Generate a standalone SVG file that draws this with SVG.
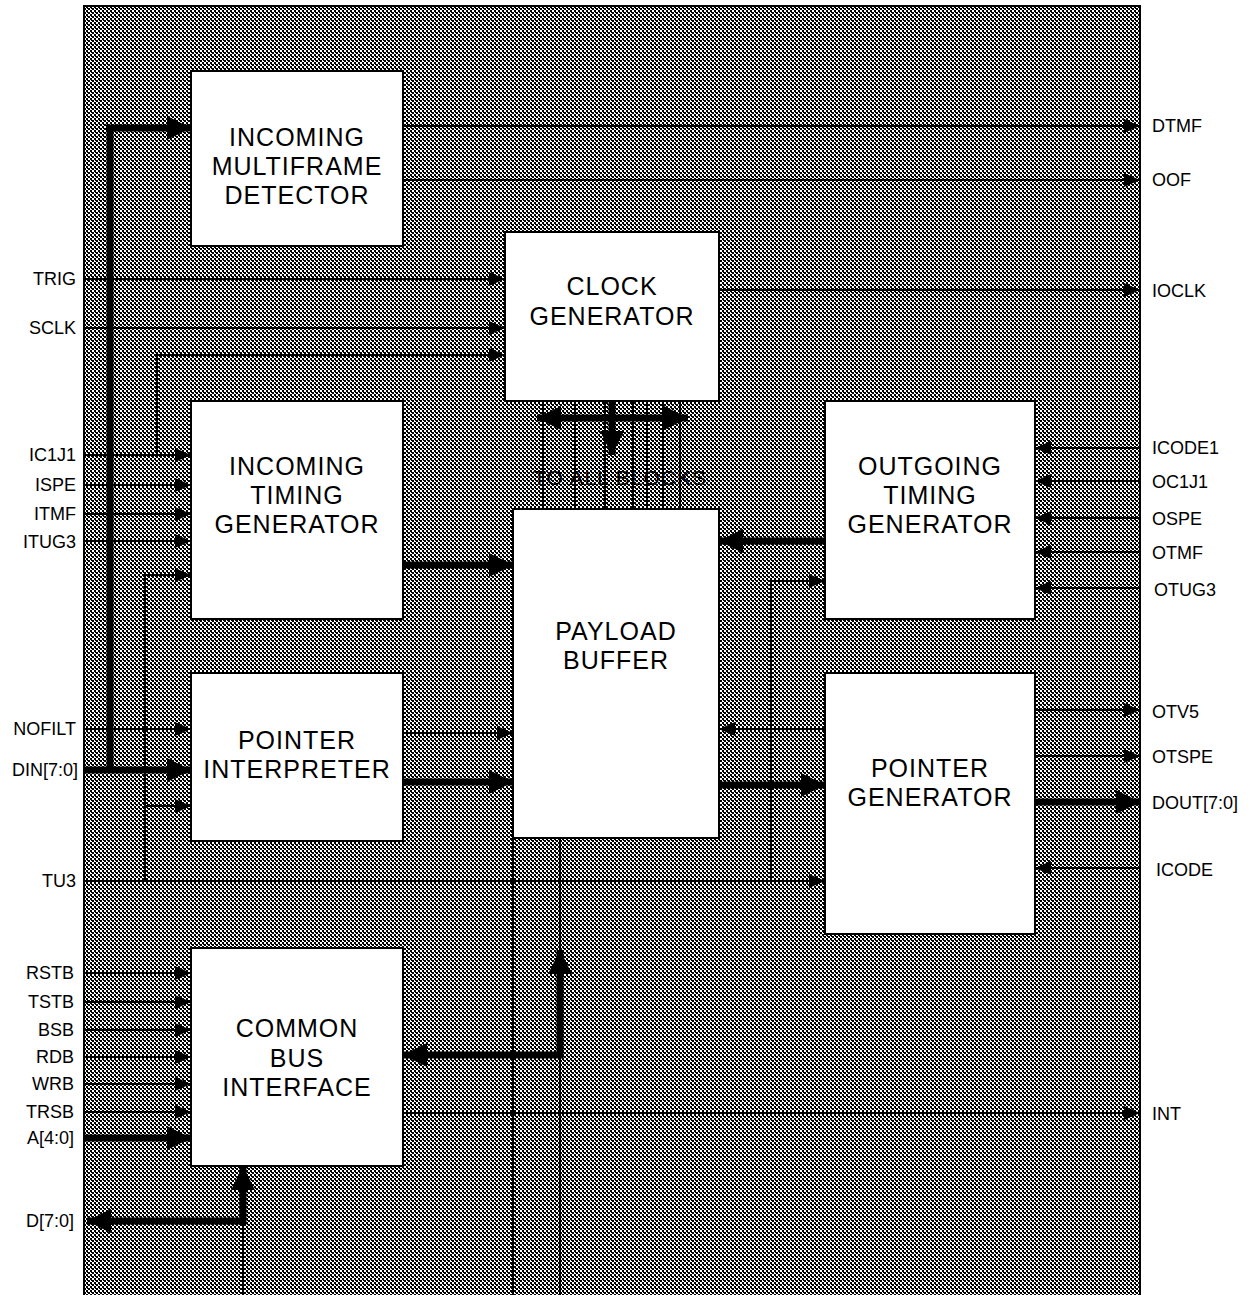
<svg xmlns="http://www.w3.org/2000/svg" width="1250" height="1295" viewBox="0 0 1250 1295">
<defs>
<pattern id="hatch" width="4" height="4" patternUnits="userSpaceOnUse">
<rect width="4" height="4" fill="#fff"/>
<rect x="0" y="0" width="2" height="2" fill="#000"/>
<rect x="2" y="2" width="2" height="2" fill="#000"/>
<rect x="1" y="0" width="1" height="1" fill="#000"/>
<rect x="3" y="0" width="1" height="1" fill="#000"/>
</pattern>
<marker id="a" markerUnits="userSpaceOnUse" markerWidth="16" markerHeight="14" refX="16" refY="7" orient="auto-start-reverse"><path d="M0,0 L16,7 L0,14 z" fill="#000"/></marker>
<marker id="A" markerUnits="userSpaceOnUse" markerWidth="24" markerHeight="24" refX="24" refY="12" orient="auto-start-reverse"><path d="M0,0 L24,12 L0,24 z" fill="#000"/></marker>
</defs>
<style>
.box{fill:#fff;stroke:#000;stroke-width:2}
.bt{font-family:"Liberation Sans",Arial,sans-serif;font-size:25px;letter-spacing:1px;text-anchor:middle;fill:#000}
.l{font-family:"Liberation Sans",Arial,sans-serif;font-size:18px;text-anchor:end;fill:#000}
.r{font-family:"Liberation Sans",Arial,sans-serif;font-size:18px;text-anchor:start;fill:#000}
.t{fill:none;stroke:#000;stroke-width:2;marker-end:url(#a)}
.n{fill:none;stroke:#000;stroke-width:2}
.T{fill:none;stroke:#000;stroke-width:7;marker-end:url(#A)}
.Tn{fill:none;stroke:#000;stroke-width:7}
</style>
<rect id="background" x="84" y="6" width="1056" height="1295" fill="url(#hatch)" stroke="#000" stroke-width="2"/>

<g id="connectors">
<path class="Tn" d="M110,125 V773"/>
<path class="T" d="M106,128 H191"/>
<path class="T" d="M84,770 H191"/>
<path class="t" d="M84,279 H505"/>
<path class="t" d="M84,328 H505"/>
<path class="t" d="M157,455 V355 H505"/>
<path class="t" d="M84,455 H191"/>
<path class="t" d="M84,485 H191"/>
<path class="t" d="M84,514 H191"/>
<path class="t" d="M84,541 H191"/>
<path class="t" d="M145,881 V575 H191"/>
<path class="t" d="M145,806 H191"/>
<path class="t" d="M84,729 H191"/>
<path class="t" d="M84,881 H825"/>
<path class="T" d="M403,565 H513"/>
<path class="t" d="M403,733 H513"/>
<path class="T" d="M403,782 H513"/>
<path class="T" d="M825,541 H719"/>
<path class="t" d="M771,881 V581 H825"/>
<path class="t" d="M825,729 H719"/>
<path class="T" d="M719,785 H825"/>
<path class="t" d="M403,126 H1140"/>
<path class="t" d="M403,180 H1140"/>
<path class="t" d="M719,290 H1140"/>
<path class="t" d="M1140,448 H1035"/>
<path class="t" d="M1140,481 H1035"/>
<path class="t" d="M1140,518 H1035"/>
<path class="t" d="M1140,552 H1035"/>
<path class="t" d="M1140,588 H1035"/>
<path class="t" d="M1035,710 H1140"/>
<path class="t" d="M1035,756 H1140"/>
<path class="T" d="M1035,802 H1140"/>
<path class="t" d="M1140,868 H1035"/>
<path class="t" d="M403,1113 H1140"/>
<path class="t" d="M84,973 H191"/>
<path class="t" d="M84,1002 H191"/>
<path class="t" d="M84,1030 H191"/>
<path class="t" d="M84,1057 H191"/>
<path class="t" d="M84,1084 H191"/>
<path class="t" d="M84,1112 H191"/>
<path class="T" d="M84,1138 H191"/>
<path class="n" d="M243,1221 V1295"/>
<path class="T" d="M87,1221 H243 V1166" style="marker-start:url(#A)"/>
<path class="n" d="M513,838 V1295"/>
<path class="n" d="M560,838 V1295"/>
<path class="T" d="M403,1055 H560 V950" style="marker-start:url(#A)"/>
<path class="n" d="M543,401 V509 M575,401 V509 M605,401 V509 M633,401 V509 M647,401 V509 M663,401 V509 M680,401 V509"/>
<path class="T" d="M537,418 H688" style="marker-start:url(#A)"/>
<path class="T" d="M612,401 V455"/>
</g>

<g id="imd"><rect class="box" x="191" y="71" width="212" height="175"/>
<text class="bt" x="297" y="146">INCOMING</text><text class="bt" x="297" y="175">MULTIFRAME</text><text class="bt" x="297" y="204">DETECTOR</text></g>
<g id="clk"><rect class="box" x="505" y="232" width="214" height="169"/>
<text class="bt" x="612" y="295">CLOCK</text><text class="bt" x="612" y="325">GENERATOR</text></g>
<g id="itg"><rect class="box" x="191" y="401" width="212" height="218"/>
<text class="bt" x="297" y="475">INCOMING</text><text class="bt" x="297" y="504">TIMING</text><text class="bt" x="297" y="533">GENERATOR</text></g>
<g id="pb"><rect class="box" x="513" y="509" width="206" height="329"/>
<text class="bt" x="616" y="640">PAYLOAD</text><text class="bt" x="616" y="669">BUFFER</text></g>
<g id="otg"><rect class="box" x="825" y="401" width="210" height="218"/>
<text class="bt" x="930" y="475">OUTGOING</text><text class="bt" x="930" y="504">TIMING</text><text class="bt" x="930" y="533">GENERATOR</text></g>
<g id="pi"><rect class="box" x="191" y="673" width="212" height="168"/>
<text class="bt" x="297" y="749">POINTER</text><text class="bt" x="297" y="778">INTERPRETER</text></g>
<g id="pg"><rect class="box" x="825" y="673" width="210" height="261"/>
<text class="bt" x="930" y="777">POINTER</text><text class="bt" x="930" y="806">GENERATOR</text></g>
<g id="cbi"><rect class="box" x="191" y="948" width="212" height="218"/>
<text class="bt" x="297" y="1037">COMMON</text><text class="bt" x="297" y="1067">BUS</text><text class="bt" x="297" y="1096">INTERFACE</text></g>

<g id="labels">
<text class="bt" x="620" y="485" style="font-size:21px">TO ALL BLOCKS</text>
<text class="l" x="76" y="285">TRIG</text>
<text class="l" x="76" y="334">SCLK</text>
<text class="l" x="76" y="461">IC1J1</text>
<text class="l" x="76" y="491">ISPE</text>
<text class="l" x="76" y="520">ITMF</text>
<text class="l" x="76" y="548">ITUG3</text>
<text class="l" x="76" y="735">NOFILT</text>
<text class="l" x="78" y="776">DIN[7:0]</text>
<text class="l" x="76" y="887">TU3</text>
<text class="l" x="74" y="979">RSTB</text>
<text class="l" x="74" y="1008">TSTB</text>
<text class="l" x="74" y="1036">BSB</text>
<text class="l" x="74" y="1063">RDB</text>
<text class="l" x="74" y="1090">WRB</text>
<text class="l" x="74" y="1118">TRSB</text>
<text class="l" x="74" y="1144">A[4:0]</text>
<text class="l" x="74" y="1227">D[7:0]</text>
<text class="r" x="1152" y="132">DTMF</text>
<text class="r" x="1152" y="186">OOF</text>
<text class="r" x="1152" y="297">IOCLK</text>
<text class="r" x="1152" y="454">ICODE1</text>
<text class="r" x="1152" y="488">OC1J1</text>
<text class="r" x="1152" y="525">OSPE</text>
<text class="r" x="1152" y="559">OTMF</text>
<text class="r" x="1154" y="596">OTUG3</text>
<text class="r" x="1152" y="718">OTV5</text>
<text class="r" x="1152" y="763">OTSPE</text>
<text class="r" x="1152" y="809">DOUT[7:0]</text>
<text class="r" x="1156" y="876">ICODE</text>
<text class="r" x="1152" y="1120">INT</text>
</g>
</svg>
